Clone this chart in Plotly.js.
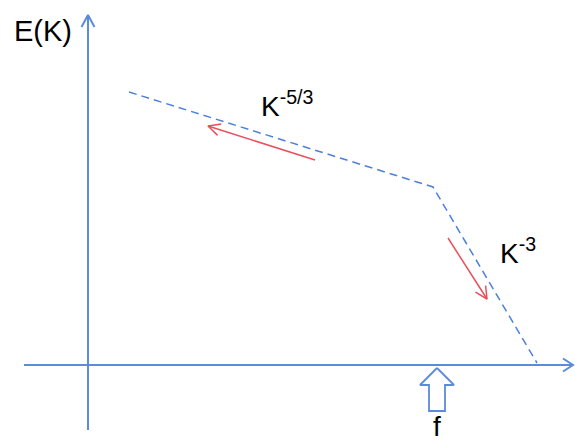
<!DOCTYPE html>
<html>
<head>
<meta charset="utf-8">
<script src="https://cdn.plot.ly/plotly-3.0.1.min.js"></script>
<style>
  html, body { margin: 0; padding: 0; background: #ffffff; }
  #chart { width: 575px; height: 445px; }
</style>
</head>
<body>
<div id="chart"></div>
<script>
// Energy spectrum sketch: wavenumber K along x, E(K) along y (arbitrary units).
const spectrumK = [41, 345, 449];
const spectrumE = [273, 178, 2];

// Cascade direction arrows: [start, end] for each segment
const inverseArrowK = [227, 120];
const inverseArrowE = [205, 239];
const directArrowK = [360, 399];
const directArrowE = [127, 66];

// Axis extents
const kAxisRange = [-64, 485];
const eAxisRange = [-65, 350];

// Forcing wavenumber
const forcingK = 349;

const labels = {
  energy: 'E(K)',
  inverse: 'K<sup>-5/3</sup>',
  direct: 'K<sup>-3</sup>',
  forcing: 'f'
};

const axisBlue = '#5b8bdb';
const dashBlue = '#4d80dc';
const red = '#ea4f5c';
const font = 'Liberation Sans, Arial, sans-serif';

// open V arrowhead at (tx,ty) pointing away from (fx,fy)
function chevron(fx, fy, tx, ty, len, half) {
  const dx = tx - fx, dy = ty - fy;
  const d = Math.hypot(dx, dy);
  const ux = dx / d, uy = dy / d;
  const bx = tx - ux * len, by = ty - uy * len;
  return {
    x: [bx - uy * half, tx, bx + uy * half],
    y: [by + ux * half, ty, by - ux * half]
  };
}

function lineTrace(x, y, color, width, dash) {
  return {
    type: 'scatter', mode: 'lines', x: x, y: y,
    line: { color: color, width: width, dash: dash || 'solid' },
    hoverinfo: 'skip', showlegend: false
  };
}

const traces = [];

// axes
traces.push(lineTrace(kAxisRange, [0, 0], axisBlue, 2));
traces.push(lineTrace([0, 0], eAxisRange, axisBlue, 2));
let h = chevron(kAxisRange[0], 0, kAxisRange[1], 0, 10, 6.5);
traces.push(lineTrace(h.x, h.y, axisBlue, 2));
h = chevron(0, eAxisRange[0], 0, eAxisRange[1], 12, 6.5);
traces.push(lineTrace(h.x, h.y, axisBlue, 2));

// spectrum
traces.push(lineTrace(spectrumK, spectrumE, dashBlue, 1.5, '8px,5px'));

// cascade arrows
traces.push(lineTrace(inverseArrowK, inverseArrowE, red, 1.5));
h = chevron(inverseArrowK[0], inverseArrowE[0], inverseArrowK[1], inverseArrowE[1], 12, 6);
traces.push(lineTrace(h.x, h.y, red, 1.5));
traces.push(lineTrace(directArrowK, directArrowE, red, 1.5));
h = chevron(directArrowK[0], directArrowE[0], directArrowK[1], directArrowE[1], 12, 6);
traces.push(lineTrace(h.x, h.y, red, 1.5));

// hollow block arrow marking the forcing scale
const tipY = -3, headLen = 17, headHalf = 17, shaftHalf = 8, shaftLen = 26;
const baseY = tipY - headLen, bottomY = baseY - shaftLen;
traces.push(lineTrace(
  [forcingK, forcingK + headHalf, forcingK + shaftHalf, forcingK + shaftHalf,
   forcingK - shaftHalf, forcingK - shaftHalf, forcingK - headHalf, forcingK],
  [tipY, baseY, baseY, bottomY, bottomY, baseY, baseY, tipY],
  axisBlue, 1.8));

const layout = {
  width: 575, height: 445,
  margin: { l: 0, r: 0, t: 0, b: 0 },
  paper_bgcolor: '#ffffff', plot_bgcolor: '#ffffff',
  xaxis: { range: [-88, 487], visible: false, fixedrange: true },
  yaxis: { range: [-80, 365], visible: false, fixedrange: true },
  showlegend: false,
  hovermode: false,
  annotations: [
    { x: -45, y: 334, text: labels.energy, showarrow: false,
      xanchor: 'center', yanchor: 'middle',
      font: { family: font, size: 29, color: '#000000' } },
    { x: 171, y: 261, text: labels.inverse, showarrow: false,
      xanchor: 'left', yanchor: 'middle',
      font: { family: font, size: 28, color: '#000000' } },
    { x: 410, y: 114, text: labels.direct, showarrow: false,
      xanchor: 'left', yanchor: 'middle',
      font: { family: font, size: 28, color: '#000000' } },
    { x: forcingK, y: -61, text: labels.forcing, showarrow: false,
      xanchor: 'center', yanchor: 'middle',
      font: { family: font, size: 28, color: '#000000' } }
  ]
};

Plotly.newPlot('chart', traces, layout, { staticPlot: true, displayModeBar: false });
</script>
</body>
</html>
